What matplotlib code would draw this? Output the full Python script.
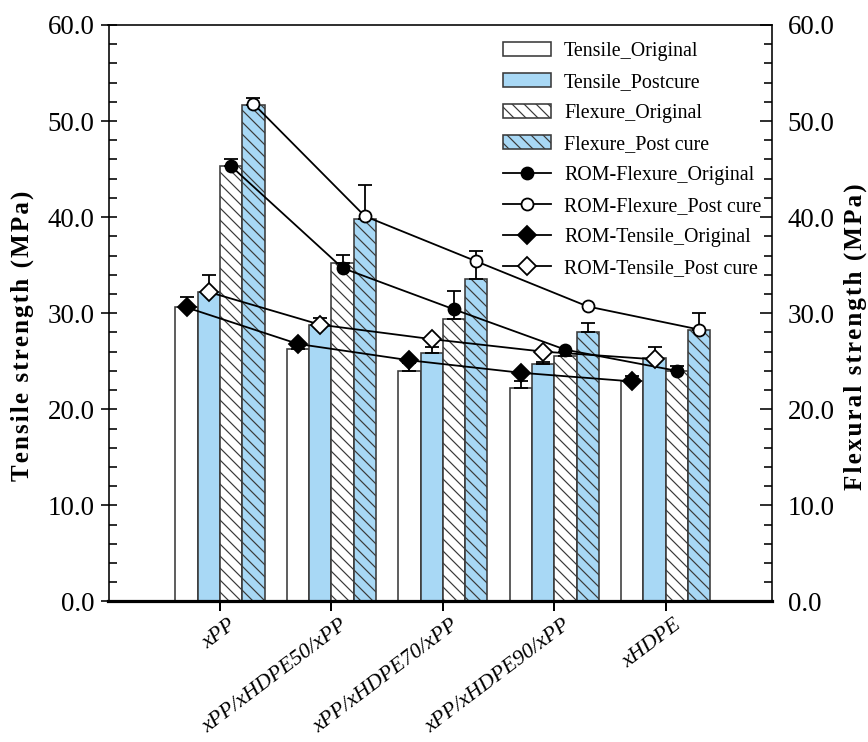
import matplotlib
matplotlib.use("Agg")
import matplotlib.pyplot as plt
from matplotlib.ticker import MultipleLocator, FormatStrFormatter
from matplotlib.transforms import ScaledTranslation
import numpy as np

plt.rcParams["font.family"] = ["Liberation Serif", "DejaVu Serif"]
plt.rcParams["hatch.linewidth"] = 0.6

samples = ["xPP", "xPP/xHDPE50/xPP", "xPP/xHDPE70/xPP", "xPP/xHDPE90/xPP", "xHDPE"]

# bar values (MPa) and upper error
tensile_orig = [30.6, 26.3, 24.0, 22.2, 22.9]
tensile_orig_err = [1.1, 0.7, 0.8, 0.7, 0.6]
tensile_post = [32.2, 28.8, 25.9, 24.7, 25.3]
tensile_post_err = [1.8, 0.7, 0.6, 0.2, 1.2]
flex_orig = [45.3, 35.2, 29.4, 25.5, 24.0]
flex_orig_err = [0.7, 0.9, 2.9, 0.5, 0.5]
flex_post = [51.7, 39.8, 33.6, 28.0, 28.3]
flex_post_err = [0.7, 3.5, 2.9, 1.0, 1.7]

# rule-of-mixture predictions
rom_flex_orig = [45.3, 34.7, 30.4, 26.2, 24.0]
rom_flex_post = [51.8, 40.1, 35.4, 30.7, 28.3]
rom_tens_orig = [30.6, 26.8, 25.1, 23.8, 22.9]
rom_tens_post = [32.2, 28.8, 27.3, 26.0, 25.2]

BLUE = "#A8D8F5"
EDGE = "#3a3a3a"


def spaced(s):
    # letter-spaced axis titles, as in the original
    return "\u200a".join(s)


fig = plt.figure(figsize=(868 / 144, 742 / 144), dpi=144)
ax = fig.add_axes([0.125, 0.1894, 0.764, 0.7770])

x = np.arange(len(samples))
w = 0.2

bars = [
    (tensile_orig, tensile_orig_err, -0.3, "white", "", "Tensile_Original"),
    (tensile_post, tensile_post_err, -0.1, BLUE, "", "Tensile_Postcure"),
    (flex_orig, flex_orig_err, 0.1, "white", "\\\\\\\\", "Flexure_Original"),
    (flex_post, flex_post_err, 0.3, BLUE, "\\\\\\\\", "Flexure_Post cure"),
]
handles = []
for vals, err, off, fc, hatch, lab in bars:
    b = ax.bar(x + off, vals, w, color=fc, edgecolor=EDGE, linewidth=0.8,
               hatch=hatch, label=lab, zorder=2)
    ax.errorbar(x + off, vals, yerr=[np.zeros(len(err)), err], fmt="none",
                ecolor="black", elinewidth=0.9, capsize=3.5, capthick=0.9,
                zorder=3)
    handles.append(b)

lines = [
    (rom_flex_orig, 0.1, "o", "black", "ROM-Flexure_Original", 6),
    (rom_flex_post, 0.3, "o", "white", "ROM-Flexure_Post cure", 6),
    (rom_tens_orig, -0.3, "D", "black", "ROM-Tensile_Original", 6.5),
    (rom_tens_post, -0.1, "D", "white", "ROM-Tensile_Post cure", 6.5),
]
for vals, off, mk, mfc, lab, ms in lines:
    ln, = ax.plot(x + off, vals, color="black", lw=0.9, marker=mk, ms=ms,
                  mfc=mfc, mec="black", mew=0.9, label=lab, zorder=4)
    handles.append(ln)

ax.set_xlim(-1.0, 4.95)
ax.set_ylim(0, 60)
ax.yaxis.set_major_locator(MultipleLocator(10))
ax.yaxis.set_minor_locator(MultipleLocator(2))
ax.yaxis.set_major_formatter(FormatStrFormatter("%.1f"))
ax.tick_params(axis="y", which="major", direction="inout", length=8,
               width=0.8, labelsize=13.5, pad=3)
ax.tick_params(axis="y", which="minor", direction="in", length=4, width=0.8)
ax.set_xticks(x)
ax.set_xticklabels(samples, rotation=37, ha="right", va="top",
                   rotation_mode="anchor", style="italic", fontsize=11)
ax.tick_params(axis="x", direction="out", length=5, width=1.0, pad=2)
# labels sit slightly right of their ticks in the original
for lbl in ax.get_xticklabels():
    lbl.set_transform(lbl.get_transform()
                      + ScaledTranslation(4 / 72, 0, fig.dpi_scale_trans))
ax.spines["bottom"].set_linewidth(1.6)
for s in ("left", "right", "top"):
    ax.spines[s].set_linewidth(0.8)
ax.set_ylabel(spaced("Tensile strength (MPa)"), fontsize=12.5,
              fontweight="bold")
ax.yaxis.set_label_coords(-0.112, 0.46)

ax2 = ax.twinx()
ax2.set_ylim(0, 60)
ax2.yaxis.set_major_locator(MultipleLocator(10))
ax2.yaxis.set_minor_locator(MultipleLocator(2))
ax2.yaxis.set_major_formatter(FormatStrFormatter("%.1f"))
ax2.tick_params(axis="y", which="major", direction="in", length=6,
                width=0.8, labelsize=13.5, pad=8)
ax2.tick_params(axis="y", which="minor", direction="in", length=4, width=0.8)
ax2.set_ylabel(spaced("Flexural strength (MPa)"), fontsize=12.5,
               fontweight="bold")
ax2.yaxis.set_label_coords(1.108, 0.46)
for s in ax2.spines.values():
    s.set_visible(False)

ax2.legend(handles=handles, loc="upper left", bbox_to_anchor=(0.595, 0.971),
           frameon=False, fontsize=10, handlelength=2.4, handletextpad=0.65,
           labelspacing=0.6, borderpad=0, borderaxespad=0)

fig.savefig("out.png", dpi=144)
